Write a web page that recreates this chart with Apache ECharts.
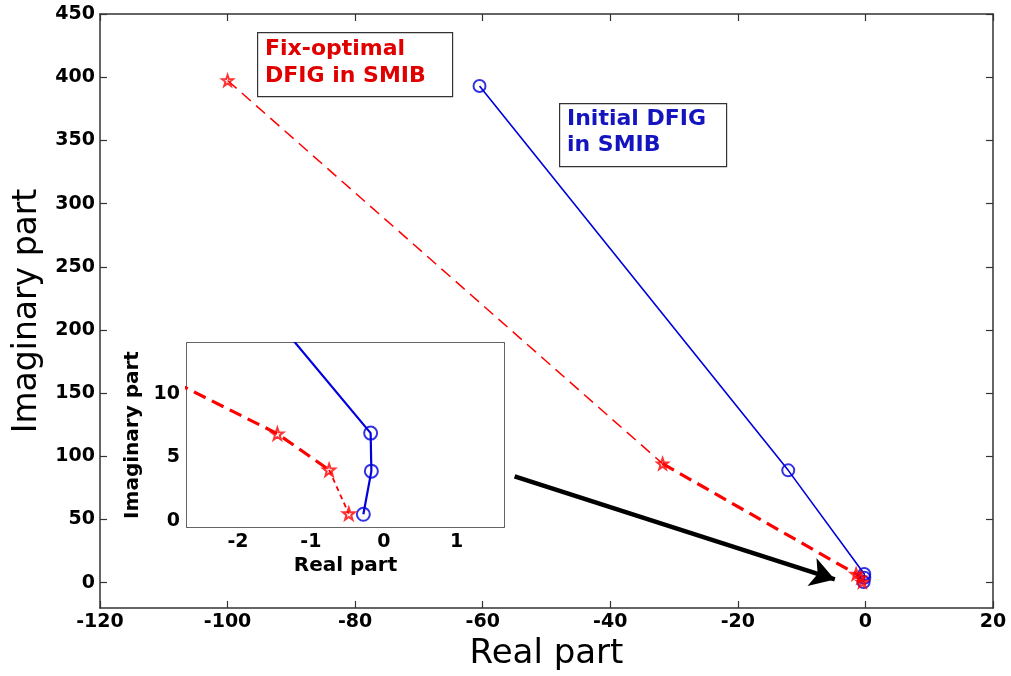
<!DOCTYPE html>
<html>
<head>
<meta charset="utf-8">
<script src="https://cdn.jsdelivr.net/npm/echarts@6/dist/echarts.min.js"></script>
<style>
  html, body { margin: 0; padding: 0; background: #fff; }
  #chart { width: 1011px; height: 676px; }
</style>
</head>
<body>
<div id="chart"></div>
<script>
// eigenvalue loci (real, imaginary)
const blueRe = [-60.5, -12.1, -0.18, -0.17, -0.28];
const blueIm = [393, 88.9, 6.9, 3.9, 0.5];
const redRe = [-100, -31.8, -1.46, -0.75, -0.48];
const redIm = [397.4, 94.2, 6.85, 4.0, 0.55];

const mainYTicks = [0, 50, 100, 150, 200, 250, 300, 350, 400, 450];
const insetXTicks = [-2, -1, 0, 1];
const insetYTicks = [0, 5, 10];

const arrowFrom = [-55, 84.2];
const arrowTo = [-4.8, 2.6];

const BLUE = '#0000dd';
const RED = '#ff0000';
const STAR = 'path://M0,-10 L2.35,-3.24 L9.51,-3.09 L3.8,1.24 L5.88,8.09 L0,4 L-5.88,8.09 L-3.8,1.24 L-9.51,-3.09 L-2.35,-3.24 Z';

function pts(re, im, from, to) {
  const out = [];
  for (let i = from; i <= to; i++) out.push([re[i], im[i]]);
  return out;
}

const axisLine = { show: true, onZero: false, lineStyle: { color: '#333', width: 1.5 } };

function xAx(grid, pos, min, max, extra, labels) {
  return Object.assign({
    type: 'value', gridIndex: grid, position: pos, min: min, max: max,
    axisLine: axisLine,
    axisTick: { show: true, inside: true, length: 7, lineStyle: { color: '#333', width: 1.2 } },
    axisLabel: { show: labels },
    splitLine: { show: false }
  }, extra);
}

const mainLabel = { fontFamily: 'DejaVu Sans', fontWeight: 'bold', fontSize: 19, color: '#000' };
const insetLabel = { fontFamily: 'DejaVu Sans', fontWeight: 'bold', fontSize: 19, color: '#000' };

const chart = echarts.init(document.getElementById('chart'));

// lines for one grid: blue solid, red thin / thick / thin dashed, markers
function lociSeries(xi, yi, blueW, thickW, thinW, mark) {
  const s = [
    { type: 'line', xAxisIndex: xi, yAxisIndex: yi, data: pts(blueRe, blueIm, 0, 4), showSymbol: false,
      lineStyle: { color: BLUE, width: blueW }, animation: false, z: 3 },
    { type: 'line', xAxisIndex: xi, yAxisIndex: yi, data: pts(redRe, redIm, 0, 1), showSymbol: false,
      lineStyle: { color: RED, width: thinW, type: [12, 7] }, animation: false, z: 3 },
    { type: 'line', xAxisIndex: xi, yAxisIndex: yi, data: pts(redRe, redIm, 1, 3), showSymbol: false,
      lineStyle: { color: RED, width: thickW, type: [13, 7] }, animation: false, z: 3 },
    { type: 'line', xAxisIndex: xi, yAxisIndex: yi, data: pts(redRe, redIm, 3, 4), showSymbol: false,
      lineStyle: { color: RED, width: thinW, type: [5, 4] }, animation: false, z: 3 },
    { type: 'scatter', xAxisIndex: xi, yAxisIndex: yi, data: pts(blueRe, blueIm, 0, 4), symbol: 'circle',
      symbolSize: mark, itemStyle: { color: 'rgba(0,0,0,0)', borderColor: BLUE, borderWidth: 2 },
      animation: false, z: 4 },
    { type: 'scatter', xAxisIndex: xi, yAxisIndex: yi, data: pts(redRe, redIm, 0, 4), symbol: STAR,
      symbolSize: mark - 1, itemStyle: { color: 'rgba(0,0,0,0)', borderColor: RED, borderWidth: 2 },
      animation: false, z: 4 }
  ];
  return s;
}

const series = lociSeries(0, 0, 1.6, 3.2, 1.5, 12).concat(lociSeries(2, 2, 2.2, 3.2, 1.8, 13));
series.push({
  type: 'line', xAxisIndex: 0, yAxisIndex: 0, data: [], animation: false, z: 5,
  markLine: {
    silent: true, animation: false,
    symbol: ['none', 'arrow'], symbolSize: [22, 24],
    label: { show: false },
    lineStyle: { color: '#000', width: 4.5, type: 'solid' },
    data: [[{ coord: arrowFrom }, { coord: arrowTo }]]
  }
});

chart.setOption({
  backgroundColor: '#fff',
  animation: false,
  grid: [
    { left: 100, top: 14, right: 18, bottom: 68, show: true, backgroundColor: '#fff', borderWidth: 0 },
    { left: 187, top: 343, width: 317, height: 184, show: true, backgroundColor: '#fff', borderWidth: 0, z: 1 }
  ],
  xAxis: [
    xAx(0, 'bottom', -120, 20, {
      interval: 20, axisLabel: Object.assign({ show: true, margin: 5 }, mainLabel),
      name: 'Real part', nameLocation: 'middle', nameGap: 26,
      nameTextStyle: { fontFamily: 'DejaVu Sans', fontSize: 34, color: '#000' }
    }, true),
    xAx(0, 'top', -120, 20, { interval: 20 }, false),
    xAx(1, 'bottom', -2.7, 1.65, {
      axisTick: { show: true, inside: true, length: 6, customValues: insetXTicks, lineStyle: { color: '#333' } },
      axisLabel: Object.assign({ show: true, margin: 6, customValues: insetXTicks }, insetLabel),
      name: 'Real part', nameLocation: 'middle', nameGap: 29,
      nameTextStyle: { fontFamily: 'DejaVu Sans', fontWeight: 'bold', fontSize: 20, color: '#000' }
    }, true),
    xAx(1, 'top', -2.7, 1.65, {
      axisTick: { show: true, inside: true, length: 6, customValues: insetXTicks, lineStyle: { color: '#333' } }
    }, false)
  ],
  yAxis: [
    xAx(0, 'left', -20, 450, {
      axisTick: { show: true, inside: true, length: 7, customValues: mainYTicks, lineStyle: { color: '#333', width: 1.2 } },
      axisLabel: Object.assign({ show: true, margin: 5, customValues: mainYTicks }, mainLabel),
      name: 'Imaginary part', nameLocation: 'middle', nameGap: 56,
      nameTextStyle: { fontFamily: 'DejaVu Sans', fontSize: 33, color: '#000' }
    }, true),
    xAx(0, 'right', -20, 450, {
      axisTick: { show: true, inside: true, length: 7, customValues: mainYTicks, lineStyle: { color: '#333', width: 1.2 } }
    }, false),
    xAx(1, 'left', -0.5, 14, {
      axisTick: { show: true, inside: true, length: 6, customValues: insetYTicks, lineStyle: { color: '#333' } },
      axisLabel: Object.assign({ show: true, margin: 7, customValues: insetYTicks }, insetLabel),
      name: 'Imaginary part', nameLocation: 'middle', nameGap: 44,
      nameTextStyle: { fontFamily: 'DejaVu Sans', fontWeight: 'bold', fontSize: 20, color: '#000' }
    }, true),
    xAx(1, 'right', -0.5, 14, {
      axisTick: { show: true, inside: true, length: 6, customValues: insetYTicks, lineStyle: { color: '#333' } }
    }, false)
  ],
  graphic: [
    { type: 'rect', left: 257, top: 32, shape: { width: 195, height: 64 },
      style: { fill: '#fff', stroke: '#333', lineWidth: 1.2 }, z: 10 },
    { type: 'text', left: 265, top: 36, z: 11,
      style: { text: 'Fix-optimal\nDFIG in SMIB', font: 'bold 22px "DejaVu Sans"', fill: '#e00000', lineHeight: 27 } },
    { type: 'rect', left: 559, top: 103, shape: { width: 167, height: 63 },
      style: { fill: '#fff', stroke: '#333', lineWidth: 1.2 }, z: 10 },
    { type: 'text', left: 567, top: 106, z: 11,
      style: { text: 'Initial DFIG\nin SMIB', font: 'bold 22px "DejaVu Sans"', fill: '#1515c0', lineHeight: 26 } }
  ],
  series: series
});
</script>
</body>
</html>
